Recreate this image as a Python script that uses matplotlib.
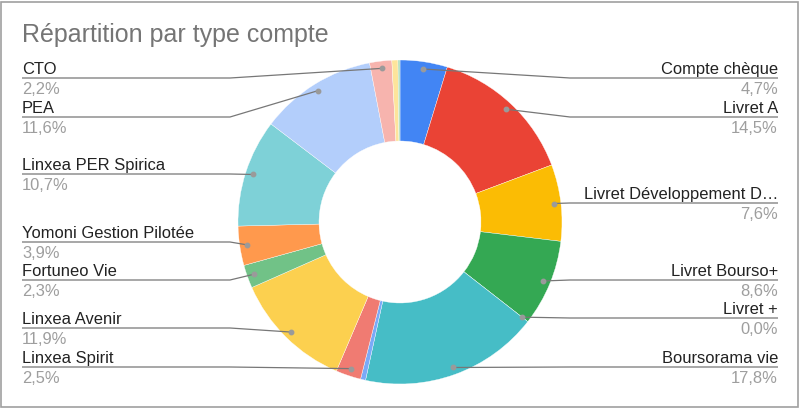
import numpy as np
import matplotlib
matplotlib.use("Agg")
import matplotlib.pyplot as plt
from matplotlib.patches import Rectangle

plt.rcParams['font.family'] = ['Liberation Sans', 'DejaVu Sans']

# ---- data ----
names = ["Compte chèque", "Livret A", "Livret Développement D…", "Livret Bourso+",
         "Livret +", "Boursorama vie", "", "Linxea Spirit", "Linxea Avenir",
         "Fortuneo Vie", "Yomoni Gestion Pilotée", "Linxea PER Spirica", "PEA",
         "CTO", "", ""]
values = [4.7, 14.5, 7.6, 8.6, 0.0, 17.8, 0.5, 2.5, 11.9, 2.3, 3.9, 10.7, 11.6,
          2.2, 0.6, 0.2]
colors = ["#4285F4", "#EA4335", "#FBBC04", "#34A853", "#FF6D01", "#46BDC6",
          "#7BAAF7", "#F07B72", "#FCD04F", "#71C287", "#FF994D", "#7ED1D7",
          "#B3CEFB", "#F7B4AE", "#FDE49B", "#AEDCBA"]
title = "Répartition par type compte"

# ---- layout (pixel coords, y down) ----
W, H = 800, 408
CX, CY, R = 400, 222, 162
label_line_y = {"Compte chèque": 78, "Livret A": 117, "Livret Développement D…": 203,
                "Livret Bourso+": 280, "Livret +": 318, "Boursorama vie": 367,
                "Linxea Spirit": 367, "Linxea Avenir": 328, "Fortuneo Vie": 280,
                "Yomoni Gestion Pilotée": 242, "Linxea PER Spirica": 174,
                "PEA": 117, "CTO": 78}

fig = plt.figure(figsize=(W / 100, H / 100), dpi=100)
ax = fig.add_axes([0, 0, 1, 1])
ax.set_xlim(0, W)
ax.set_ylim(0, H)
ax.set_aspect('equal')
ax.axis('off')

def py(y):
    return H - y

ax.pie(values, colors=colors, startangle=90, counterclock=False, radius=R,
       center=(CX, py(CY)), frame=True,
       wedgeprops=dict(width=R * 0.5, edgecolor='white', linewidth=0.25))
ax.set_xlim(0, W)
ax.set_ylim(0, H)
ax.axis('off')

total = sum(values)
cum = np.cumsum([0] + values)
fs = 11.9
for i, name in enumerate(names):
    if not name:
        continue
    mid = (cum[i] + cum[i + 1]) / 2 / total
    ang = np.pi / 2 - 2 * np.pi * mid
    ar = R * 0.955
    axp = CX + ar * np.cos(ang)
    ayp = CY - ar * np.sin(ang)
    ly = label_line_y[name]
    pct = f"{values[i]:.1f}".replace('.', ',') + "%"
    if axp >= CX:
        elbow = max(570, axp)
        xs = [axp, elbow, 778]
        tx, ha = 778, 'right'
    else:
        elbow = min(230, axp)
        xs = [axp, elbow, 22]
        tx, ha = 22, 'left'
    ax.plot(xs, [py(ayp), py(ly), py(ly)], color='#777777', lw=0.9,
            solid_capstyle='butt', zorder=5)
    ax.plot([axp], [py(ayp)], 'o', ms=3.2, color='#9a9a9a', zorder=6)
    ax.text(tx, py(ly - 4), name, ha=ha, va='baseline', fontsize=fs,
            color='#222222')
    ax.text(tx, py(ly + 16), pct, ha=ha, va='baseline', fontsize=fs,
            color='#9e9e9e')

ax.text(22, py(42), title, ha='left', va='baseline', fontsize=18,
        color='#757575')

fig.patches.append(Rectangle((0.5 / W, 1.5 / H), 797 / W, 405 / H,
                             transform=fig.transFigure, fill=False,
                             edgecolor='#a0a0a0', lw=1.2))

fig.savefig("out.png", dpi=100, facecolor='white')
